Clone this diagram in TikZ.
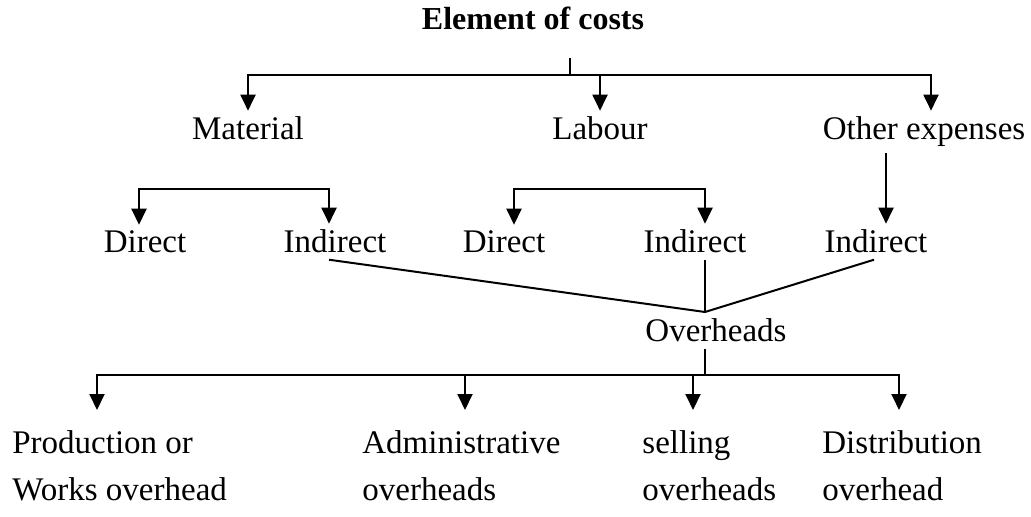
\documentclass[tikz,border=0pt]{standalone}
\usepackage{fontspec}
\setmainfont{Liberation Serif}
\usetikzlibrary{arrows.meta}

\begin{document}
\begin{tikzpicture}[
		x=0.5pt, y=-0.5pt,
		% Style definitions
		item/.style={
			anchor=base,
			inner sep=3pt,
			font=\fontsize{16.5}{23.5}\selectfont
		},
		head/.style={
			item,
			font=\fontsize{16}{20}\selectfont\bfseries
		},
		leaf/.style={
			anchor=north west,
			inner xsep=0pt,
			inner ysep=10pt,
			align=left,
			font=\fontsize{16.5}{23.5}\selectfont
		},
		arrow/.style={
			-{Triangle[length=8pt,width=7.5pt]},
			line width=1pt,
			black
		},
		link/.style={
			line width=1pt,
			black
		}
		]
		\useasboundingbox (0,0) rectangle (1031,517);
		
		% Title
		\node[head] (EC) at (533,30) {Element of costs};
		
		% First level
		\node[item] (Mat) at (248,140) {Material};
		\node[item] (Lab) at (600,140) {Labour};
		\node[item] (Oth) at (924,140) {Other expenses};
		
		% Second level
		\node[item] (MD) at (145,253) {Direct};
		\node[item] (MI) at (335,253) {Indirect};
		\node[item] (LD) at (504,253) {Direct};
		\node[item] (LI) at (695,253) {Indirect};
		\node[item] (OI) at (876,253) {Indirect};
		
		% Overheads
		\node[item] (Ovh) at (716,342) {Overheads};
		
		% Kinds of overheads
		\node[leaf] (P1) at (12,410) {Production or\\Works overhead};
		\node[leaf] (A1) at (362,410) {Administrative\\overheads};
		\node[leaf] (S1) at (642,410) {selling\\overheads};
		\node[leaf] (D1) at (822,410) {Distribution\\overhead};
		
		% Junctions
		\coordinate (T0) at (570,58);
		\coordinate (J1) at (570,75);
		\coordinate (J2) at (234,189);
		\coordinate (J3) at (610,189);
		\coordinate (J4) at (705,312);
		\coordinate (J5) at (705,375);
		
		% Connection arrows
		\draw[link] (T0) -- (J1);
		\draw[arrow] (J1) -| (Mat);
		\draw[arrow] (J1) -| (Lab);
		\draw[arrow] (J1) -| ([xshift=3.5pt]Oth.north);
		
		\draw[arrow] (J2) -| ([xshift=-3pt]MD.north);
		\draw[arrow] (J2) -| ([xshift=-3pt]MI.north);
		\draw[arrow] (J3) -| ([xshift=5pt]LD.north);
		\draw[arrow] (J3) -| ([xshift=5pt]LI.north);
		\draw[arrow] ([xshift=-19pt]Oth.south) -- ([xshift=5pt]OI.north);
		
		\draw[link] ([xshift=-3pt]MI.south) -- (J4);
		\draw[link] ([xshift=5pt]LI.south) -- (J4);
		\draw[link] ([xshift=-1pt]OI.south) -- (J4);
		\draw[link] ([xshift=-5.5pt]Ovh.south) -- (J5);
		
		\draw[arrow] (J5) -| ([xshift=42.5pt]P1.north west);
		\draw[arrow] (J5) -| ([xshift=51.5pt]A1.north west);
		\draw[arrow] (J5) -| ([xshift=25.5pt]S1.north west);
		\draw[arrow] (J5) -| ([xshift=38.5pt]D1.north west);
		
	\end{tikzpicture}
\end{document}
